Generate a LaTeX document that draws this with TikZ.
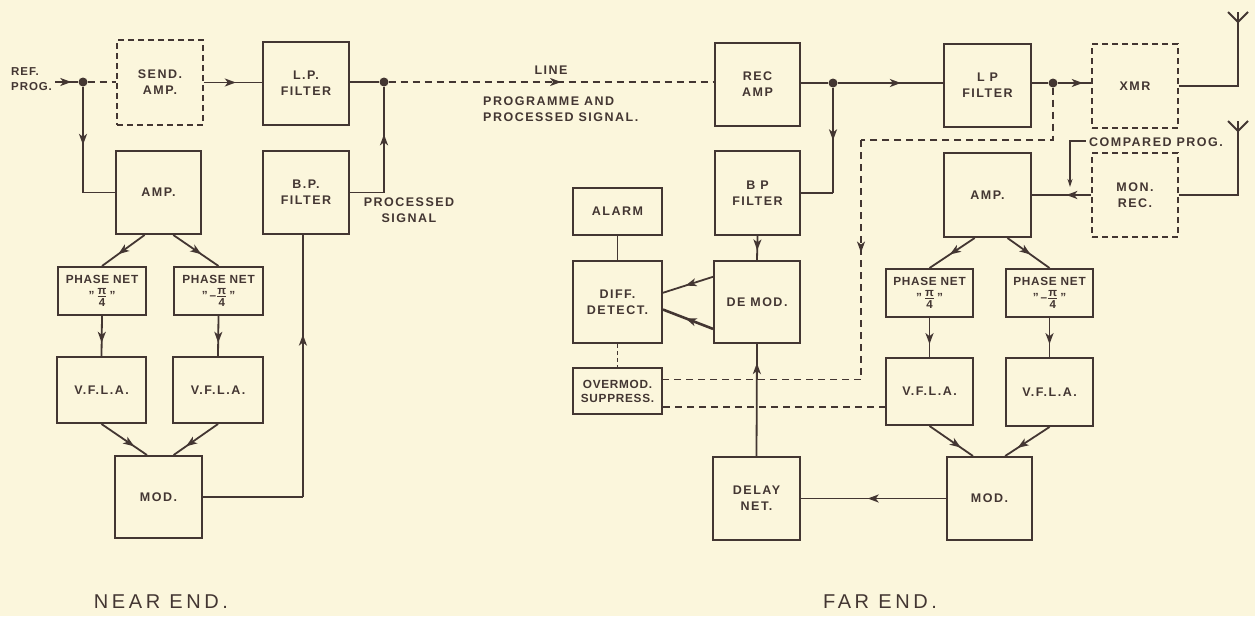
\documentclass[tikz,border=0pt]{standalone}
\usepackage{amsmath}
\usepackage{fontspec}
\setmainfont{Liberation Sans}
\usetikzlibrary{arrows.meta,calc,decorations.markings}
\definecolor{bg}{HTML}{FBF6DC}
\definecolor{ink}{HTML}{433632}
\newcommand\lbl{\fontsize{12.5}{16}\selectfont\bfseries\addfontfeature{LetterSpace=12}}
\newcommand\reff{\fontsize{11.5}{15}\selectfont\bfseries\addfontfeature{LetterSpace=8}}
\newcommand\pnf{\fontsize{11.8}{14}\selectfont\bfseries\addfontfeature{LetterSpace=6}}
\newcommand\ttl{\fontsize{20}{22}\selectfont\addfontfeature{LetterSpace=18}}
\newcommand\pifrac[2]{$\genfrac{}{}{1.3pt}{}{\mbox{\fontsize{11.5}{10}\selectfont\bfseries #1}}{\mbox{\fontsize{11.5}{10}\selectfont\bfseries #2}}$}
\tikzset{
  blk/.style={draw=ink, line width=2pt, inner sep=0pt, align=center, font=\lbl, text=ink},
  dblk/.style={blk, line width=1.7pt, dash pattern=on 6pt off 4pt},
  pnet/.style={blk, font=\pnf},
  sz/.style 2 args={minimum width=#1pt, minimum height=#2pt},
  wire/.style={draw=ink, line width=1.8pt},
  dwire/.style={wire, line width=1.5pt, dash pattern=on 7pt off 5pt},
  arr/.style={postaction={decorate}, decoration={markings, mark=at position #1 with {\arrow{Stealth[length=11pt,width=8pt,inset=3pt]}}}},
  dotn/.style={circle, fill=ink, inner sep=0pt, minimum size=9pt},
  lab/.style={inner sep=0pt, align=center, font=\lbl, text=ink},
  ttlab/.style={inner sep=0pt, font=\ttl, text=ink},
}
\begin{document}
\begin{tikzpicture}[x=1pt,y=-1pt]
\fill[bg] (0,0) rectangle (1255,616);
\useasboundingbox (0,0) rectangle (1255,616);

% ---------- NEAR END boxes ----------
\node[dblk,sz={86}{85}] (sendamp) at (160,82.5) {SEND.\\AMP.};
\node[blk,sz={86}{83}] (lpf) at (306,83.5) {L.P.\\FILTER};
\node[blk,sz={85}{83}] (amp) at (158.5,192.5) {AMP.};
\node[blk,sz={86}{83}] (bpf) at (306,192.5) {B.P.\\FILTER};
\node[pnet,sz={88}{48}] (pn1) at (102,291) {PHASE NET\\[2pt]"\,\pifrac{π}{4}\,"};
\node[pnet,sz={89}{48}] (pn2) at (218.5,291) {PHASE NET\\[2pt]"\,–\pifrac{π}{4}\,"};
\node[blk,sz={89}{66}] (vf1) at (101.5,390) {V.F.L.A.};
\node[blk,sz={90}{66}] (vf2) at (218,390) {V.F.L.A.};
\node[blk,sz={87}{82}] (mod) at (158.5,497) {MOD.};

\node[dotn] (d1) at (83,82) {};
\node[dotn] (d2) at (384,82) {};

% ---------- FAR END boxes ----------
\node[blk,sz={85}{83}] (recamp) at (757.5,84.5) {REC\\AMP};
\node[blk,sz={85}{84}] (fbpf) at (757.5,193) {B P\\FILTER};
\node[blk,sz={89}{47}] (alarm) at (617.5,211.5) {ALARM};
\node[blk,sz={89}{82}] (diff) at (617.5,302) {DIFF.\\DETECT.};
\node[blk,sz={86}{82}] (demod) at (757,302) {DE MOD.};
\node[pnet,sz={89}{46}] (overmod) at (617.5,391) {OVERMOD.\\SUPPRESS.};
\node[blk,sz={87}{83}] (delay) at (756.5,498.5) {DELAY\\NET.};
\node[blk,sz={87}{83}] (flpf) at (987.5,85.5) {L P\\FILTER};
\node[dblk,sz={86}{84}] (xmr) at (1135,86) {XMR};
\node[blk,sz={87}{84}] (famp) at (987.5,195) {AMP.};
\node[dblk,sz={86}{84}] (monrec) at (1135,195) {MON.\\REC.};
\node[pnet,sz={87}{48}] (fpn1) at (929.5,293) {PHASE NET\\[2pt]"\,\pifrac{π}{4}\,"};
\node[pnet,sz={87}{48}] (fpn2) at (1049.5,293) {PHASE NET\\[2pt]"\,–\pifrac{π}{4}\,"};
\node[blk,sz={87}{67}] (fvf1) at (929.5,391.5) {V.F.L.A.};
\node[blk,sz={87}{68}] (fvf2) at (1049.5,392) {V.F.L.A.};
\node[blk,sz={85}{83}] (fmod) at (989.5,498.5) {MOD.};

\node[dotn] (d3) at (833,83) {};
\node[dotn] (d4) at (1053,83) {};

% ---------- labels ----------
\node[lab, font=\reff, anchor=west, align=left] (ref) at (11,79.5) {REF.\\PROG.};
\node[lab] (procsig) at (409,210) {PROCESSED\\SIGNAL};
\node[lab] (linelab) at (551,70) {LINE};
\node[lab, anchor=west, align=left] (proglab) at (483,109) {PROGRAMME AND\\PROCESSED SIGNAL.};
\node[lab] (cprog) at (1156,142) {COMPARED PROG.};
\node[ttlab] (near) at (161,602) {NEAR END.};
\node[ttlab] (far) at (880,602) {FAR END.};

% ---------- NEAR END connectors ----------
\coordinate (refin) at (55,82);
\draw[wire, arr=0.7] (refin) -- (d1);
\draw[dwire] (d1) -- (d1 -| sendamp.west);
\draw[wire, arr=0.55] (sendamp.east) -- (sendamp.east -| lpf.west);
\draw[wire] (d2 -| lpf.east) -- (d2);
\draw[dwire, arr=0.53] (d2) -- (d2 -| recamp.west);
\draw[wire, arr=0.55] (d1) -- (d1 |- amp.west);
\draw[wire] (d1 |- amp.west) -- (amp.west);
\draw[wire] (bpf.east) -- (bpf.east -| d2);
\draw[wire, arr=0.55] (bpf.east -| d2) -- (d2);
\draw[wire, arr=0.62] ($(amp.south west)!0.34!(amp.south east)$) -- (pn1.north);
\draw[wire, arr=0.62] ($(amp.south west)!0.67!(amp.south east)$) -- (pn2.north);
\draw[wire, arr=0.67] (pn1.south) -- (vf1.north);
\draw[wire, arr=0.67] (pn2.south) -- (vf2.north);
\draw[wire, arr=0.72] (vf1.south) -- ($(mod.north west)!0.37!(mod.north east)$);
\draw[wire, arr=0.72] (vf2.south) -- ($(mod.north west)!0.67!(mod.north east)$);
\coordinate (bpin) at ($(bpf.south west)!0.465!(bpf.south east)$);
\draw[wire] (mod.east) -- (mod.east -| bpin);
\draw[wire, arr=0.62] (mod.east -| bpin) -- (bpin);

% ---------- FAR END connectors ----------
\draw[wire] (d3 -| recamp.east) -- (d3);
\draw[wire, arr=0.6] (d3) -- (d3 -| flpf.west);
\draw[wire, arr=0.5] (d3) -- (d3 |- fbpf.east);
\draw[wire] (d3 |- fbpf.east) -- (fbpf.east);
\draw[wire] (d4 -| flpf.east) -- (d4);
\draw[wire, arr=0.75] (d4) -- (d4 -| xmr.west);

\coordinate (ant1) at (1238,12);
\coordinate (ant1j) at (1238,22);
\draw[wire] (xmr.east) -| (ant1);
\draw[wire] ($(ant1j)+(-10,-10)$) -- (ant1j) -- ($(ant1j)+(10,-10)$);
\coordinate (ant2) at (1238,121);
\coordinate (ant2j) at (1238,131);
\draw[wire] (monrec.east) -| (ant2);
\draw[wire] ($(ant2j)+(-10,-10)$) -- (ant2j) -- ($(ant2j)+(10,-10)$);

\draw[wire, arr=0.42] (monrec.west) -- (famp.east);
\coordinate (cpend) at (1070,187);
\draw[wire, line width=1.3pt, -{Stealth[length=8pt,width=5pt]}] ($(cprog.west)+(-3,-1)$) -| (cpend);

\coordinate (om1) at ($(overmod.north east)!0.26!(overmod.south east)$);
\coordinate (om2) at ($(overmod.north east)!0.83!(overmod.south east)$);
\coordinate (dk1) at (1053,140);
\coordinate (dk2) at (861,140);
\draw[dwire] (d4) -- (dk1) -- (dk2);
\draw[dwire, arr=0.47] (dk2) -- (dk2 |- om1);
\draw[dwire] (dk2 |- om1) -- (om1);
\draw[dwire] (om2) -- (om2 -| fvf1.west);

\draw[wire] (alarm.south) -- (diff.north);
\draw[wire, dash pattern=on 4pt off 3pt] (diff.south) -- (overmod.north);
\draw[wire, arr=0.6] (fbpf.south) -- (demod.north);
\draw[wire, arr=0.55] ($(demod.north west)!0.2!(demod.south west)$) -- ($(diff.north east)!0.39!(diff.south east)$);
\draw[wire, line width=2.6pt, arr=0.55] ($(demod.north west)!0.82!(demod.south west)$) -- ($(diff.north east)!0.59!(diff.south east)$);
\draw[wire, arr=0.83] (delay.north) -- (demod.south);
\draw[wire, arr=0.54] (fmod.west) -- (fmod.west -| delay.east);

\draw[wire, arr=0.55] ($(famp.south west)!0.356!(famp.south east)$) -- (fpn1.north);
\draw[wire, arr=0.55] ($(famp.south west)!0.724!(famp.south east)$) -- (fpn2.north);
\draw[wire, arr=0.67] (fpn1.south) -- (fvf1.north);
\draw[wire, arr=0.67] (fpn2.south) -- (fvf2.north);
\draw[wire, arr=0.72] (fvf1.south) -- ($(fmod.north west)!0.31!(fmod.north east)$);
\draw[wire, arr=0.72] (fvf2.south) -- ($(fmod.north west)!0.68!(fmod.north east)$);
\end{tikzpicture}
\end{document}
